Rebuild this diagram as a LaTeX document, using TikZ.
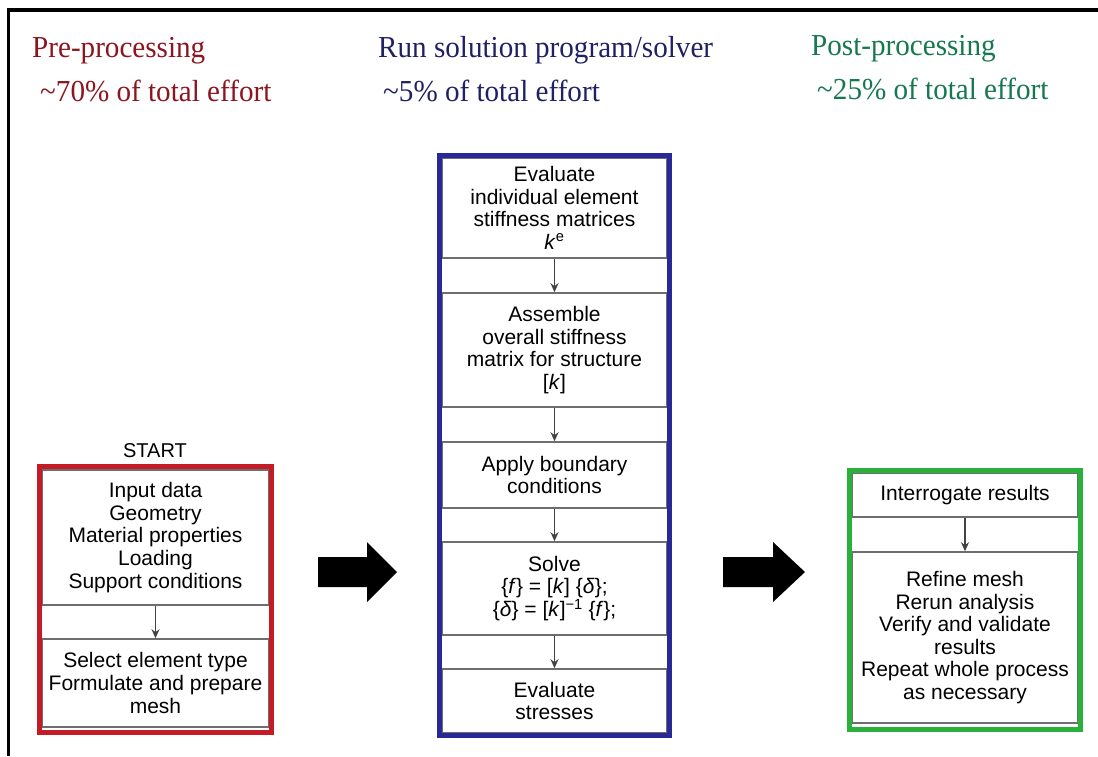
\documentclass[tikz,border=0pt]{standalone}
\usepackage{fontspec}
\setmainfont{Liberation Serif}
\newfontfamily\sansf{Liberation Sans}
\newfontfamily\hdrf[FakeStretch=0.955]{Liberation Serif}
\usetikzlibrary{arrows.meta}
\definecolor{hred}{RGB}{140,22,32}
\definecolor{hblue}{RGB}{32,32,100}
\definecolor{hgreen}{RGB}{22,120,80}
\definecolor{fred}{RGB}{196,28,38}
\definecolor{fblue}{RGB}{40,40,150}
\definecolor{fgreen}{RGB}{40,178,60}
\definecolor{boxgray}{RGB}{110,110,110}
\begin{document}
\begin{tikzpicture}[x=1pt,y=-1pt,
  header/.style={anchor=base west, inner sep=0pt, font=\hdrf\fontsize{30.5}{32}\selectfont},
  inbox/.style={draw=boxgray, line width=1.6pt, inner sep=0pt, align=center,
    font=\sansf\fontsize{21}{22.6}\selectfont},
  plain/.style={inner sep=0pt, align=center, font=\sansf\fontsize{20}{22}\selectfont},
  flow/.style={draw=boxgray!60!black, line width=1.3pt, -{Stealth[length=9pt,width=8pt]}},
  frame/.style={line width=5pt},
  bigarrow/.style={fill=black}]
\useasboundingbox (0,0) rectangle (1098,756);
\fill[white] (0,0) rectangle (1098,756);
% outer frame
\draw[line width=3.5pt] (8.5,756) -- (8.5,10) -- (1098,10);
% headers
\node[header, text=hred] (h1) at (32,57) {Pre-processing};
\node[header, text=hred] (h1b) at (40,101) {\textasciitilde 70\% of total effort};
\node[header, text=hblue] (h2) at (378,57) {Run solution program/solver};
\node[header, text=hblue] (h2b) at (383,101) {\textasciitilde 5\% of total effort};
\node[header, text=hgreen] (h3) at (811,55) {Post-processing};
\node[header, text=hgreen] (h3b) at (817,99) {\textasciitilde 25\% of total effort};
% left column
\node[plain] (start) at (155,451) {START};
\node[inbox, minimum width=227pt, minimum height=135pt] (a1) at (155.5,537.5)
  {Input data\\Geometry\\Material properties\\Loading\\Support conditions};
\node[inbox, minimum width=227pt, minimum height=88pt] (a2) at (155.5,683)
  {Select element type\\Formulate and prepare\\mesh};
\draw[flow] (a1.south) -- (a2.north);
\draw[frame, draw=fred] (39.5,466.5) rectangle (271.5,732.5);
% middle column
\node[inbox, minimum width=225pt, minimum height=100pt] (b1) at (554.5,208)
  {Evaluate\\individual element\\stiffness matrices\\\textit{k}\textsuperscript{e}};
\node[inbox, minimum width=225pt, minimum height=114pt] (b2) at (554.5,350)
  {Assemble\\overall stiffness\\matrix for structure\\{[}\textit{k}{]}};
\node[inbox, minimum width=225pt, minimum height=66pt] (b3) at (554.5,475)
  {Apply boundary\\conditions};
\node[inbox, minimum width=225pt, minimum height=93pt] (b4) at (554.5,588.5)
  {Solve\\\{\textit{f}\} = [\textit{k}] \{\textit{δ}\};\\\{\textit{δ}\} = [\textit{k}]\textsuperscript{−1} \{\textit{f}\};};
\node[inbox, minimum width=225pt, minimum height=64pt] (b5) at (554.5,701)
  {Evaluate\\stresses};
\draw[flow] (b1.south) -- (b2.north);
\draw[flow] (b2.south) -- (b3.north);
\draw[flow] (b3.south) -- (b4.north);
\draw[flow] (b4.south) -- (b5.north);
\draw[frame, draw=fblue] (439.5,155.5) rectangle (669.5,735);
% right column
\node[inbox, minimum width=226pt, minimum height=44pt] (c1) at (965,495)
  {Interrogate results};
\node[inbox, minimum width=226pt, minimum height=171pt] (c2) at (965,637.5)
  {Refine mesh\\Rerun analysis\\Verify and validate\\results\\Repeat whole process\\as necessary};
\draw[flow] (c1.south) -- (c2.north);
\draw[frame, draw=fgreen] (849.5,470.5) rectangle (1080.5,729.5);
% big arrows
\fill[bigarrow] (318,557) -- (367,557) -- (367,542) -- (397,572) -- (367,602) -- (367,587) -- (318,587) -- cycle;
\fill[bigarrow] (723,557) -- (773,557) -- (773,542) -- (805,572) -- (773,602) -- (773,587) -- (723,587) -- cycle;
\end{tikzpicture}
\end{document}
